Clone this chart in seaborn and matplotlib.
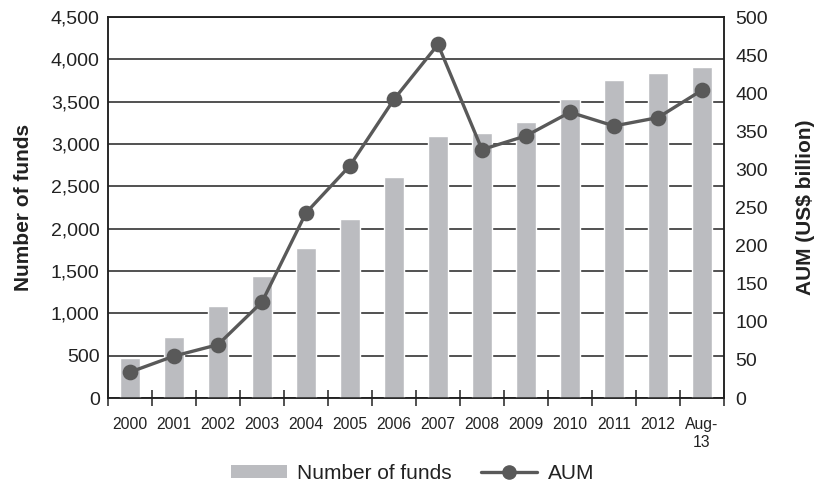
import matplotlib
matplotlib.use("Agg")
import matplotlib.pyplot as plt
import seaborn as sns
import pandas as pd
from matplotlib.patches import Patch
from matplotlib.lines import Line2D
from matplotlib.ticker import FuncFormatter, FixedLocator

categories = ["2000", "2001", "2002", "2003", "2004", "2005", "2006",
              "2007", "2008", "2009", "2010", "2011", "2012", "Aug-\n13"]
num_funds = [470, 720, 1090, 1440, 1770, 2110, 2610,
             3100, 3130, 3260, 3535, 3750, 3840, 3905]
aum = [34, 55, 70, 126, 243, 305, 392,
       464, 326, 344, 375, 357, 368, 404]

sns.set_theme(style="white")
plt.rcParams['font.family'] = ['Liberation Sans', 'DejaVu Sans']

df = pd.DataFrame({"cat": categories, "funds": num_funds, "aum": aum})

fig = plt.figure(figsize=(8.17, 4.86), dpi=100)
ax = fig.add_axes([108/817, 88/486, (724-108)/817, (398-17)/486])

bar_color = "#bbbcc0"
line_color = "#595959"
text_color = "#222222"

sns.barplot(data=df, x="cat", y="funds", ax=ax, color=bar_color,
            width=0.44, saturation=1, zorder=3)
ax.set_ylim(0, 4500)
ax.set_yticks(range(0, 4501, 500))
ax.yaxis.set_major_formatter(FuncFormatter(lambda v, p: f"{int(v):,}"))
ax.grid(axis="y", color=text_color, linewidth=1.1, zorder=0)
ax.grid(axis="x", visible=False)
ax.set_axisbelow(True)
ax.set_xlim(-0.5, len(categories) - 0.5)
ax.set_xlabel("")
ax.set_ylabel("Number of funds", fontsize=15, fontweight="bold", labelpad=13,
              color=text_color)
ax.tick_params(axis="y", length=0, labelsize=14, colors=text_color, pad=6)
ax.tick_params(axis="x", which="major", length=0, labelsize=11.3, colors=text_color, pad=14)
ax.xaxis.set_minor_locator(FixedLocator([i - 0.5 for i in range(len(categories) + 1)]))
ax.tick_params(axis="x", which="minor", direction="inout", length=12, width=1.1,
               color=text_color, bottom=True)
for s in ax.spines.values():
    s.set_color(text_color)
    s.set_linewidth(1.1)

ax2 = ax.twinx()
sns.pointplot(data=df, x="cat", y="aum", ax=ax2, color=line_color,
              markers="o", markersize=9.5, linewidth=2.4, zorder=5)
ax2.set_ylim(0, 500)
ax2.set_yticks(range(0, 501, 50))
ax2.set_xlim(-0.5, len(categories) - 0.5)
ax2.set_ylabel("AUM (US$ billion)", fontsize=15, fontweight="bold", labelpad=20,
               color=text_color)
ax2.tick_params(axis="y", length=0, labelsize=14, colors=text_color, pad=8)
ax2.grid(False)
for s in ax2.spines.values():
    s.set_color(text_color)
    s.set_linewidth(1.1)

handles = [Patch(facecolor=bar_color, edgecolor="none", label="Number of funds"),
           Line2D([0], [0], color=line_color, linewidth=2.4, marker="o",
                  markersize=9.5, label="AUM")]
leg = fig.legend(handles=handles, loc="center", bbox_to_anchor=(0.505, 0.026), ncol=2,
                 frameon=False, fontsize=15, handlelength=2.7, handleheight=0.6,
                 columnspacing=1.4, handletextpad=0.5)
for t in leg.get_texts():
    t.set_color(text_color)

fig.savefig("out.png", dpi=100)
